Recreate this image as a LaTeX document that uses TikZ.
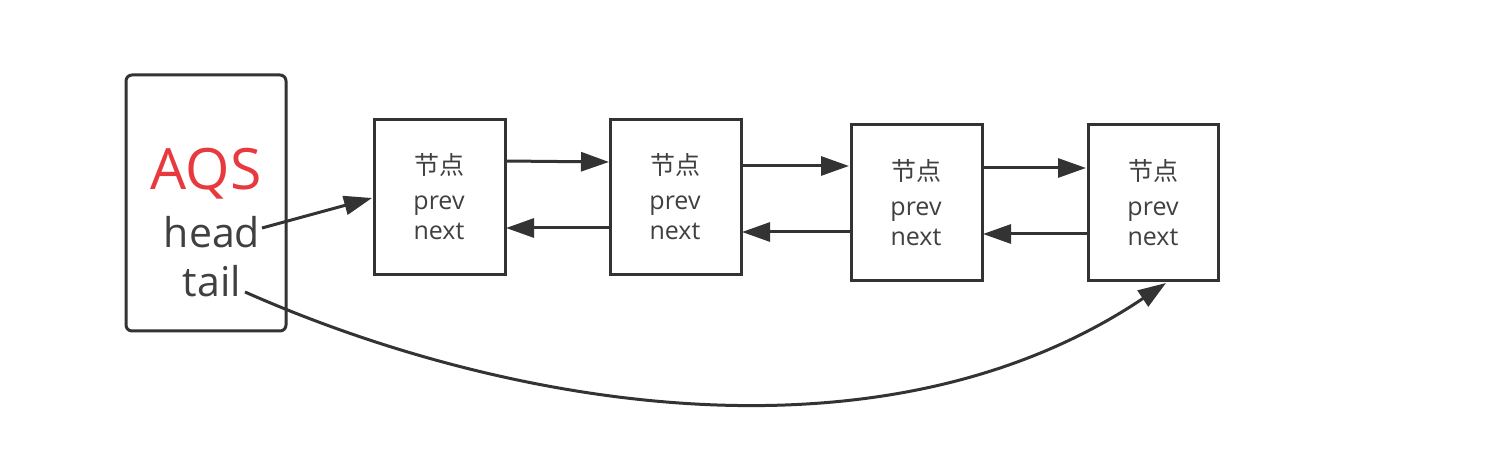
\documentclass[tikz,border=0pt]{standalone}
\usepackage{fontspec}
\setmainfont{Open Sans}
\newfontfamily\cjk{Noto Sans CJK SC}
\usetikzlibrary{arrows.meta}
\definecolor{ink}{HTML}{333333}
\definecolor{txt}{HTML}{404040}
\definecolor{aqsred}{HTML}{E8393F}
\tikzset{
  nodebox/.style={draw=ink, line width=3pt, fill=white},
  aqsbox/.style={draw=ink, line width=3pt, rounded corners=6pt, fill=white},
  link/.style={draw=ink, line width=3pt, -{Triangle[length=28pt,width=19pt]}},
  lbl/.style={text=txt, font=\fontsize{25}{30}\selectfont, inner sep=0pt, anchor=base},
  big/.style={text=txt, font=\fontsize{41}{46}\selectfont, inner sep=0pt, anchor=base},
}
\begin{document}
\begin{tikzpicture}[x=1pt,y=-1pt]
\useasboundingbox (0,0) rectangle (1494,454);
% AQS box
\draw[aqsbox] (126,75) rectangle (286,331);
\node[text=aqsred, font=\fontsize{57}{62}\selectfont, inner sep=0pt, anchor=base] (aqs) at (206,190) {AQS};
\node[big] (head) at (212,248) {head};
\node[big] (tail) at (212,297) {tail};
% nodes
\draw[nodebox] (374,120) rectangle (505,275);
\draw[nodebox] (610,120) rectangle (741,275);
\draw[nodebox] (851,125) rectangle (982,281);
\draw[nodebox] (1088,125) rectangle (1218,281);
\node[lbl] (n1a) at (439,175) {\cjk 节点};
\node[lbl] (n1b) at (439,210) {prev};
\node[lbl] (n1c) at (439,240) {next};
\node[lbl] (n2a) at (675,175) {\cjk 节点};
\node[lbl] (n2b) at (675,210) {prev};
\node[lbl] (n2c) at (675,240) {next};
\node[lbl] (n3a) at (916,181) {\cjk 节点};
\node[lbl] (n3b) at (916,216) {prev};
\node[lbl] (n3c) at (916,246) {next};
\node[lbl] (n4a) at (1153,181) {\cjk 节点};
\node[lbl] (n4b) at (1153,216) {prev};
\node[lbl] (n4c) at (1153,246) {next};
% anchor coordinates
\coordinate (h0) at (262,228);
\coordinate (h1) at (372,198);
\coordinate (a1) at (505,161);
\coordinate (a2) at (609,162);
\coordinate (b2) at (610,228);
\coordinate (b1) at (506,228);
\coordinate (c2) at (741,166);
\coordinate (c3) at (849,166);
\coordinate (d3) at (851,232);
\coordinate (d2) at (742,232);
\coordinate (e3) at (982,168);
\coordinate (e4) at (1086,168);
\coordinate (f4) at (1088,234);
\coordinate (f3) at (983,234);
\coordinate (t0) at (245,292);
\coordinate (t1) at (1166,283);
% arrows
\draw[link] (h0) -- (h1);
\draw[link] (a1) -- (a2);
\draw[link] (b2) -- (b1);
\draw[link] (c2) -- (c3);
\draw[link] (d3) -- (d2);
\draw[link] (e3) -- (e4);
\draw[link] (f4) -- (f3);
\draw[link] (t0) .. controls (500,405) and (880,475) .. (t1);
\end{tikzpicture}
\end{document}
